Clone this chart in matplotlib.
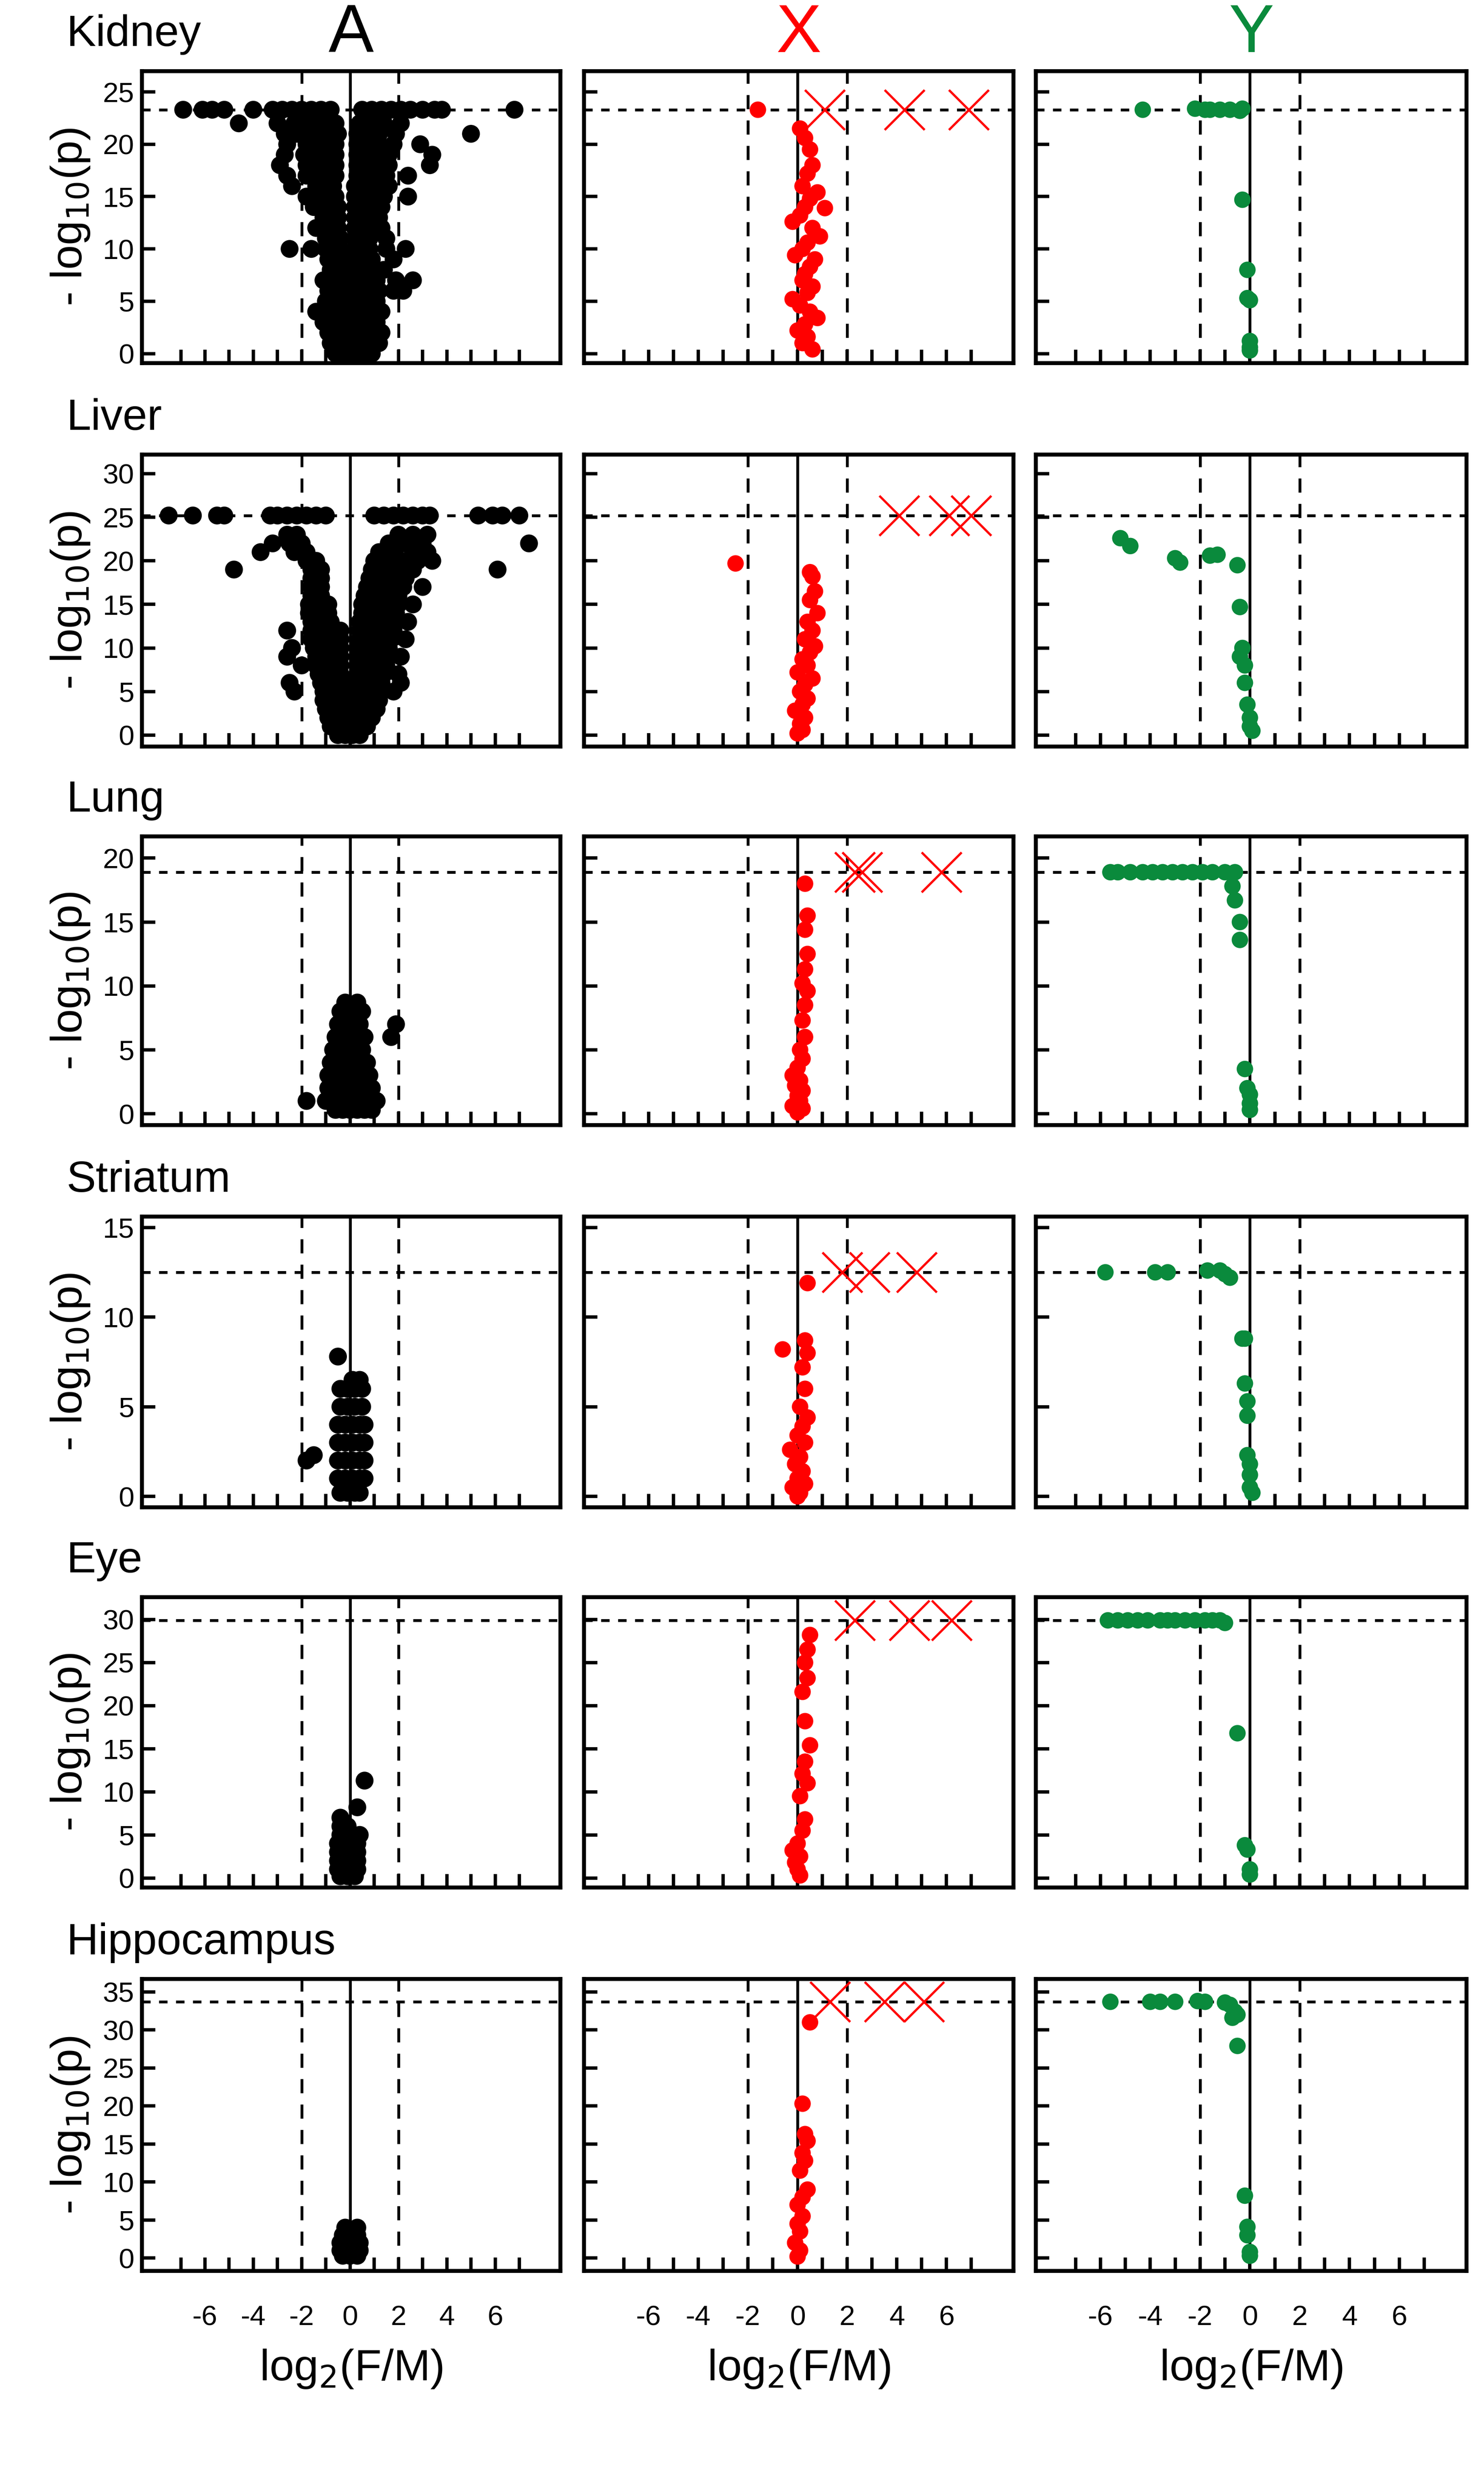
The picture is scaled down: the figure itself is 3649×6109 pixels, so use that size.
import numpy as np
import matplotlib
matplotlib.use("Agg")
import matplotlib.pyplot as plt

plt.rcParams['font.family'] = ['Liberation Sans Narrow', 'Liberation Sans', 'DejaVu Sans']

tissues = ["Kidney", "Liver", "Lung", "Striatum", "Eye", "Hippocampus"]
col_titles = ["A", "X", "Y"]
col_colors = ["black", "red", "#0a8a3c"]

# y limits, y ticks max and the p-value cap line per tissue
ylims = [(-0.9, 27.0), (-1.3, 32.2), (-0.9, 21.7), (-0.6, 15.6), (-1.1, 32.6), (-1.7, 36.7)]
ytick_max = [25, 30, 20, 15, 30, 35]
cap_line = [23.3, 25.2, 18.9, 12.5, 29.9, 33.7]

# ---- column A: rows of x values at given y levels ----
kidney_a_levels = list(range(0, 23)) + [23.3]
kidney_a_rows = [
    [-0.6, -0.3, 0, 0.3, 0.6, 0.9],
    [-0.8, -0.5, -0.2, 0.1, 0.4, 0.7, 1.0, 1.2],
    [-0.9, -0.6, -0.3, 0, 0.3, 0.6, 0.9, 1.3],
    [-1.1, -0.7, -0.4, -0.1, 0.2, 0.5, 0.8, 1.1],
    [-1.4, -0.9, -0.6, -0.3, 0.1, 0.4, 0.7, 1.0, 1.3],
    [-1.0, -0.7, -0.4, -0.1, 0.2, 0.5, 0.8, 1.1],
    [-0.9, -0.6, -0.3, 0.1, 0.4, 0.7, 1.2, 1.8, 2.2],
    [-1.1, -0.8, -0.5, -0.2, 0.2, 0.5, 0.8, 1.1, 1.9, 2.6],
    [-0.8, -0.5, -0.2, 0.2, 0.5, 0.9, 1.4],
    [-0.9, -0.6, -0.3, 0.2, 0.5, 0.9, 1.8],
    [-2.5, -1.6, -1.0, -0.7, -0.4, 0.2, 0.5, 0.8, 1.5, 2.3],
    [-1.0, -0.7, -0.4, 0.2, 0.5, 0.8, 1.5],
    [-1.4, -1.1, -0.8, -0.5, 0.2, 0.5, 0.8, 1.3],
    [-1.1, -0.8, -0.5, 0.2, 0.5, 0.9, 1.2],
    [-1.5, -1.2, -0.9, -0.5, 0.2, 0.5, 0.9, 1.3],
    [-1.8, -1.3, -1.0, -0.6, 0.2, 0.6, 1.0, 1.4, 2.4],
    [-2.4, -1.4, -1.1, -0.7, 0.2, 0.6, 1.0, 1.6],
    [-2.6, -1.8, -1.4, -1.0, -0.6, 0.3, 0.7, 1.1, 1.5, 2.4],
    [-2.9, -1.8, -1.4, -1.0, -0.6, 0.3, 0.7, 1.1, 1.6, 3.3],
    [-2.7, -1.9, -1.5, -1.1, -0.6, 0.3, 0.7, 1.1, 1.6, 3.4],
    [-2.6, -1.8, -1.5, -1.1, -0.6, 0.3, 0.7, 1.2, 1.8, 2.9],
    [-2.7, -2.2, -1.7, -1.3, -0.9, -0.5, 0.3, 0.7, 1.2, 1.9, 5.0],
    [-4.6, -3.0, -2.3, -1.9, -1.5, -1.0, -0.6, 0.4, 0.9, 1.4, 2.1],
    [-6.9, -6.1, -5.7, -5.2, -4.0, -3.2, -2.8, -2.4, -2.0, -1.6, -1.2, -0.8,
     0.5, 0.9, 1.3, 1.7, 2.1, 2.5, 3.0, 3.5, 3.8, 6.8],
]

liver_a_levels = list(range(0, 24)) + [25.2]
liver_a_rows = [
    [-0.5, -0.2, 0.1, 0.4],
    [-0.8, -0.5, -0.2, 0.1, 0.4, 0.7],
    [-0.9, -0.6, -0.3, 0, 0.3, 0.6, 0.9],
    [-1.0, -0.7, -0.4, -0.1, 0.2, 0.5, 0.8, 1.1],
    [-1.1, -0.8, -0.5, -0.2, 0.2, 0.5, 0.8, 1.2],
    [-2.3, -1.1, -0.8, -0.5, -0.2, 0.2, 0.5, 0.8, 1.1, 1.8],
    [-2.5, -1.2, -0.9, -0.6, -0.3, 0.3, 0.6, 0.9, 1.3, 2.1],
    [-1.3, -1.0, -0.7, -0.4, 0.3, 0.6, 0.9, 1.4, 2.0],
    [-2.0, -1.4, -1.1, -0.8, -0.4, 0.3, 0.6, 1.0, 1.5],
    [-2.6, -1.4, -1.1, -0.8, -0.4, 0.3, 0.7, 1.1, 1.5, 2.1],
    [-2.4, -1.5, -1.2, -0.8, -0.4, 0.3, 0.7, 1.1, 1.6],
    [-1.6, -1.2, -0.8, -0.4, 0.4, 0.8, 1.2, 1.7, 2.3],
    [-2.6, -1.6, -1.2, -0.8, -0.4, 0.4, 0.8, 1.2, 1.8],
    [-1.6, -1.2, -0.8, 0.4, 0.8, 1.2, 1.8, 2.4],
    [-1.7, -1.3, -0.9, 0.5, 0.9, 1.3, 1.9],
    [-1.7, -1.3, -0.9, 0.5, 0.9, 1.3, 2.0, 2.6],
    [-1.6, -1.2, 0.6, 1.0, 1.4, 2.0],
    [-1.6, -1.2, 0.7, 1.1, 1.5, 2.2, 3.0],
    [-1.6, -1.2, 0.8, 1.2, 1.7, 2.3],
    [-4.8, -1.6, -1.2, 0.9, 1.4, 1.9, 2.6, 6.1],
    [-1.8, -1.4, 1.0, 1.5, 2.1, 2.8, 3.4],
    [-3.7, -2.3, -1.8, 1.2, 1.8, 2.6, 3.2],
    [-3.2, -2.5, -2.0, 1.6, 2.2, 3.0, 7.4],
    [-2.6, -2.2, 2.0, 2.6, 3.2],
    [-7.5, -6.5, -5.5, -5.2, -3.3, -3.0, -2.6, -2.2, -1.8, -1.4, -1.0,
     1.0, 1.4, 1.8, 2.2, 2.6, 3.0, 3.3, 5.3, 5.9, 6.3, 7.0],
]

lung_a_levels = [0.3, 1, 2, 3, 4, 5, 6, 7, 8, 8.7]
lung_a_rows = [
    [-0.6, -0.3, 0, 0.3, 0.6, 0.9],
    [-1.8, -1.0, -0.7, -0.4, -0.1, 0.2, 0.5, 0.8, 1.1],
    [-0.9, -0.6, -0.3, 0, 0.3, 0.6, 0.9],
    [-0.9, -0.6, -0.3, 0, 0.3, 0.6, 0.8],
    [-0.8, -0.5, -0.2, 0.1, 0.4, 0.7],
    [-0.7, -0.4, -0.1, 0.2, 0.5],
    [-0.6, -0.3, 0, 0.3, 0.6, 1.7],
    [-0.5, -0.2, 0.1, 0.4, 1.9],
    [-0.4, -0.1, 0.2, 0.5],
    [-0.2, 0.3],
]

striatum_a_levels = [0.2, 1, 2, 2.3, 3, 4, 5, 6, 6.5, 7.8]
striatum_a_rows = [
    [-0.4, -0.1, 0.2, 0.4],
    [-0.5, -0.2, 0.1, 0.4, 0.6],
    [-1.8, -0.5, -0.2, 0.1, 0.4, 0.6],
    [-1.5],
    [-0.5, -0.2, 0.1, 0.4, 0.6],
    [-0.5, -0.2, 0.1, 0.4, 0.6],
    [-0.4, -0.1, 0.2, 0.5],
    [-0.4, -0.1, 0.2, 0.5],
    [0.1, 0.4],
    [-0.5],
]

eye_a_levels = [0.2, 1, 2, 3, 4, 5, 6, 7, 8.2, 11.3]
eye_a_rows = [
    [-0.4, -0.1, 0.2],
    [-0.5, -0.2, 0.1, 0.3],
    [-0.5, -0.2, 0.1, 0.3],
    [-0.5, -0.2, 0.1, 0.3],
    [-0.5, -0.2, 0.1, 0.3],
    [-0.4, -0.1, 0.4],
    [-0.4, -0.1],
    [-0.4],
    [0.3],
    [0.6],
]

hippo_a_levels = [0.3, 1, 2, 3, 4]
hippo_a_rows = [
    [-0.3, 0, 0.3],
    [-0.4, -0.1, 0.2, 0.4],
    [-0.4, -0.1, 0.2, 0.4],
    [-0.3, 0, 0.3],
    [-0.2, 0.3],
]

# ---- column X (red points, crosses = capped values) ----
kidney_x_x = [-1.6, 0.1, 0.3, 0.5, 0.6, 0.4, 0.2, 0.8, 0.5, 0.3, 0.1, -0.2, 0.6, 0.9, 0.4, 0.2,
              -0.1, 0.7, 0.5, 0.3, 1.1, 0.2, 0.6, 0.4, -0.2, 0.1, 0.5, 0.8, 0.3, 0.0, 0.4, 0.2, 0.6]
kidney_x_y = [23.3, 21.5, 20.6, 19.5, 18.0, 17.2, 16.0, 15.4, 14.8, 14.0, 13.2, 12.6, 12.0, 11.2,
              10.6, 10.0, 9.4, 9.0, 8.3, 7.6, 13.9, 7.0, 6.4, 5.8, 5.2, 4.6, 4.0, 3.4, 2.8, 2.2,
              1.6, 1.0, 0.4]
kidney_x_cross = [1.1, 4.3, 6.9]

liver_x_x = [-2.5, 0.5, 0.6, 0.7, 0.5, 0.8, 0.4, 0.6, 0.3, 0.7, 0.5, 0.2, 0.4, 0.0, 0.6, 0.3,
             0.1, 0.4, 0.2, -0.1, 0.3, 0.1, 0.2, 0.0]
liver_x_y = [19.7, 18.7, 18.2, 16.5, 15.5, 14.0, 13.0, 12.0, 11.0, 10.2, 9.5, 8.7, 8.0, 7.2, 6.5,
             5.8, 5.0, 4.2, 3.5, 2.8, 2.0, 1.3, 0.6, 0.2]
liver_x_cross = [4.1, 6.1, 7.0]

lung_x_x = [0.3, 0.4, 0.3, 0.4, 0.3, 0.2, 0.4, 0.3, 0.2, 0.3, 0.1, 0.2, 0.0, -0.2, 0.1, -0.1,
            0.2, 0.0, 0.1, -0.2, 0.2, 0.0]
lung_x_y = [18.0, 15.5, 14.4, 12.5, 11.3, 10.2, 9.6, 8.5, 7.3, 6.0, 5.0, 4.3, 3.6, 3.0, 2.6, 2.2,
            1.8, 1.4, 1.0, 0.6, 0.4, 0.1]
lung_x_cross = [2.3, 2.6, 5.8]

striatum_x_x = [-0.6, 0.4, 0.3, 0.4, 0.2, 0.3, 0.1, 0.4, 0.2, 0.0, 0.3, -0.3, 0.1, -0.1, 0.2, 0.0,
                0.3, -0.2, 0.1, 0.0]
striatum_x_y = [8.2, 11.9, 8.7, 8.0, 7.2, 6.0, 5.0, 4.4, 3.9, 3.4, 3.0, 2.6, 2.2, 1.8, 1.4, 1.0,
                0.7, 0.5, 0.2, 0.0]
striatum_x_cross = [1.8, 2.9, 4.8]

eye_x_x = [0.5, 0.4, 0.3, 0.4, 0.2, 0.3, 0.5, 0.3, 0.2, 0.4, 0.1, 0.3, 0.2, 0.0, -0.2, 0.1, -0.1,
           0.0, 0.1]
eye_x_y = [28.2, 26.5, 25.0, 23.2, 21.6, 18.2, 15.4, 13.5, 12.1, 11.0, 9.5, 6.8, 5.5, 4.0, 3.2,
           2.5, 1.8, 1.0, 0.3]
eye_x_cross = [2.3, 4.5, 6.2]

hippo_x_x = [0.5, 0.2, 0.3, 0.4, 0.2, 0.3, 0.1, 0.4, 0.2, 0.0, 0.2, 0.0, 0.1, -0.1, 0.1, 0.0]
hippo_x_y = [31.0, 20.3, 16.3, 15.4, 13.8, 12.8, 11.5, 9.0, 8.0, 7.0, 5.5, 4.5, 3.5, 2.0, 1.0, 0.2]
hippo_x_cross = [1.3, 3.5, 5.1]

# ---- column Y (green) ----
kidney_y_x = [-4.3, -2.2, -1.8, -1.6, -1.2, -0.8, -0.4, -0.3, -0.3, -0.1, -0.1, 0.0, 0.0, 0.0, 0.0]
kidney_y_y = [23.3, 23.4, 23.3, 23.3, 23.3, 23.3, 23.2, 23.4, 14.7, 8.0, 5.3, 5.1, 1.2, 0.6, 0.3]

liver_y_x = [-5.2, -4.8, -3.0, -2.8, -1.6, -1.3, -0.5, -0.4, -0.3, -0.4, -0.2, -0.2, -0.1, 0.0,
             0.0, 0.1]
liver_y_y = [22.6, 21.7, 20.3, 19.8, 20.6, 20.7, 19.5, 14.7, 10.0, 9.0, 8.0, 6.0, 3.5, 2.0, 1.0, 0.5]

lung_y_x = [-5.6, -5.3, -4.8, -4.3, -3.9, -3.5, -3.1, -2.7, -2.3, -1.9, -1.5, -1.0, -0.6, -0.7,
            -0.6, -0.4, -0.4, -0.2, -0.1, 0.0, 0.0, 0.0]
lung_y_y = [18.9, 18.9, 18.9, 18.9, 18.9, 18.9, 18.9, 18.9, 18.9, 18.9, 18.9, 18.9, 18.9, 17.8,
            16.7, 15.0, 13.6, 3.5, 2.0, 1.5, 0.8, 0.3]

striatum_y_x = [-5.8, -3.8, -3.3, -1.7, -1.2, -1.0, -0.8, -0.3, -0.2, -0.2, -0.1, -0.1, -0.1, 0.0,
                0.0, 0.0, 0.1]
striatum_y_y = [12.5, 12.5, 12.5, 12.6, 12.6, 12.4, 12.2, 8.8, 8.8, 6.3, 5.3, 4.5, 2.3, 1.8, 1.2,
                0.5, 0.2]

eye_y_x = [-5.7, -5.3, -4.9, -4.5, -4.1, -3.6, -3.3, -3.0, -2.6, -2.2, -1.8, -1.5, -1.2, -1.0,
           -0.5, -0.2, -0.1, 0.0, 0.0]
eye_y_y = [29.9, 29.9, 29.9, 29.9, 29.9, 29.9, 29.9, 29.9, 29.9, 29.9, 29.9, 29.9, 29.9, 29.6,
           16.8, 3.8, 3.3, 1.0, 0.4]

hippo_y_x = [-5.6, -4.0, -3.6, -3.0, -2.1, -1.8, -1.0, -0.8, -0.6, -0.5, -0.7, -0.5, -0.2, -0.1,
             -0.1, 0.0, 0.0]
hippo_y_y = [33.7, 33.7, 33.7, 33.7, 33.8, 33.7, 33.6, 33.3, 32.4, 32.0, 31.6, 27.9, 8.2, 4.1, 3.0,
             0.8, 0.3]

a_levels = [kidney_a_levels, liver_a_levels, lung_a_levels, striatum_a_levels, eye_a_levels, hippo_a_levels]
a_rows = [kidney_a_rows, liver_a_rows, lung_a_rows, striatum_a_rows, eye_a_rows, hippo_a_rows]
x_pts = [(kidney_x_x, kidney_x_y), (liver_x_x, liver_x_y), (lung_x_x, lung_x_y),
         (striatum_x_x, striatum_x_y), (eye_x_x, eye_x_y), (hippo_x_x, hippo_x_y)]
x_cross = [kidney_x_cross, liver_x_cross, lung_x_cross, striatum_x_cross, eye_x_cross, hippo_x_cross]
y_pts = [(kidney_y_x, kidney_y_y), (liver_y_x, liver_y_y), (lung_y_x, lung_y_y),
         (striatum_y_x, striatum_y_y), (eye_y_x, eye_y_y), (hippo_y_x, hippo_y_y)]

W, H = 3649, 6109
fig = plt.figure(figsize=(W / 100, H / 100), dpi=100)

# layout in fractions of the (940 x 1574) preview
col_l = [90, 370, 656]
col_r = [355, 642, 929]
row_t = [45, 288, 530, 771, 1012, 1254]
row_b = [230, 473, 713, 955, 1196, 1439]
PW, PH = 940.0, 1574.0

for r in range(6):
    for c in range(3):
        ax = fig.add_axes([col_l[c] / PW, 1 - row_b[r] / PH,
                           (col_r[c] - col_l[c]) / PW, (row_b[r] - row_t[r]) / PH])
        ax.set_xlim(-8.6, 8.7)
        ax.set_ylim(*ylims[r])
        # reference lines
        ax.axvline(0, color='black', lw=5, zorder=1)
        ax.axvline(-2, color='black', lw=5, ls=(0, (5, 4)), zorder=1)
        ax.axvline(2, color='black', lw=5, ls=(0, (5, 4)), zorder=1)
        ax.axhline(cap_line[r], color='black', lw=5, ls=(0, (3, 3)), zorder=1)

        if c == 0:
            xs, ys = [], []
            for yv, row in zip(a_levels[r], a_rows[r]):
                xs += row
                ys += [yv] * len(row)
            ax.scatter(xs, ys, s=1000, color='black', edgecolors='none', zorder=3)
        elif c == 1:
            px, py = x_pts[r]
            ax.scatter(px, py, s=850, color='red', edgecolors='none', zorder=3)
            ax.scatter(x_cross[r], [cap_line[r]] * len(x_cross[r]), marker='x', s=5000,
                       color='red', linewidths=4, zorder=4)
        else:
            px, py = y_pts[r]
            ax.scatter(px, py, s=850, color=col_colors[2], edgecolors='none', zorder=3)

        for sp in ['left', 'bottom', 'right', 'top']:
            ax.spines[sp].set_linewidth(7)
        ax.set_xticks(range(-7, 8))
        ax.set_yticks(range(0, ytick_max[r] + 1, 5))
        ax.tick_params(direction='in', length=24, width=6, top=False, right=False,
                       labelsize=50, pad=14)
        if c == 0:
            ax.set_yticklabels([str(v) for v in range(0, ytick_max[r] + 1, 5)])
            ax.set_ylabel(r'- log$_{10}$(p)', fontsize=78, labelpad=20)
        else:
            ax.set_yticklabels([])
        if r == 5:
            ax.set_xticklabels(['' if v % 2 else str(v) for v in range(-7, 8)])
            ax.set_xlabel(r'log$_2$(F/M)', fontsize=78, labelpad=30)
            ax.tick_params(axis='x', pad=60)
        else:
            ax.set_xticklabels([])

    fig.text(42 / PW, 1 - 22 / PH if r == 0 else 1 - (row_t[r] - 23) / PH, tissues[r],
             fontsize=78, ha='left', va='center')

for c in range(3):
    cx = (col_l[c] + col_r[c]) / 2 / PW
    fig.text(cx, 1 - 22 / PH, col_titles[c], fontsize=120, ha='center', va='center',
             color=col_colors[c])

fig.savefig('out.png', dpi=100)
